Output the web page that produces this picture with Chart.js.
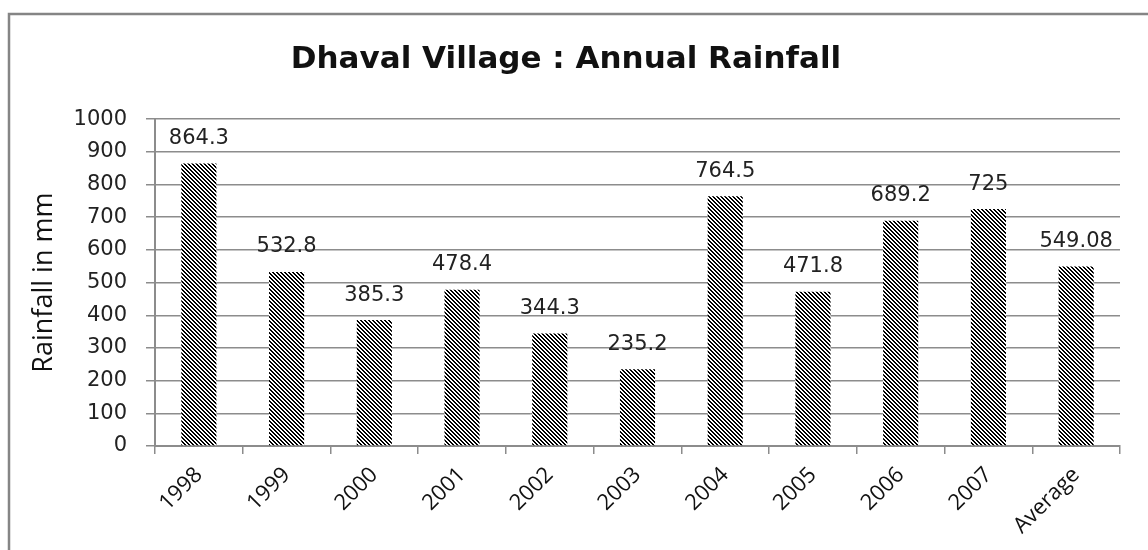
<!DOCTYPE html>
<html lang="en">
<head>
    <meta charset="UTF-8">
    <title>Dhaval Village : Annual Rainfall</title>
    <script src="https://cdn.jsdelivr.net/npm/chart.js"></script>
    <style>
        body { margin: 0; background: #fff; }
        #wrap { width: 1148px; height: 550px; }
    </style>
</head>
<body>
<div id="wrap"><canvas id="rainChart" width="1148" height="550"></canvas></div>

<script>
    const years = ["1998", "1999", "2000", "2001", "2002", "2003", "2004", "2005", "2006", "2007", "Average"];
    const rainfall = [864.3, 532.8, 385.3, 478.4, 344.3, 235.2, 764.5, 471.8, 689.2, 725, 549.08];
    const valueLabels = ["864.3", "532.8", "385.3", "478.4", "344.3", "235.2", "764.5", "471.8", "689.2", "725", "549.08"];
    const yTicks = [0, 100, 200, 300, 400, 500, 600, 700, 800, 900, 1000];

    // diagonal hatch fill like the old excel pattern
    function makeHatch() {
        const c = document.createElement("canvas");
        c.width = 4;
        c.height = 4;
        const g = c.getContext("2d");
        g.fillStyle = "#fff";
        g.fillRect(0, 0, 4, 4);
        g.fillStyle = "#000";
        for (let y = 0; y < 4; y++) {
            for (let x = 0; x < 4; x++) {
                const d = ((x - y) % 4 + 4) % 4;
                if (d === 0 || d === 1) g.fillRect(x, y, 1, 1);
            }
        }
        return g.createPattern(c, "repeat");
    }

    const frame = {
        id: "frame",
        beforeDraw(chart) {
            const ctx = chart.ctx;
            ctx.save();
            ctx.strokeStyle = "#858585";
            ctx.lineWidth = 2.5;
            ctx.beginPath();
            ctx.moveTo(9, 560);
            ctx.lineTo(9, 14);
            ctx.lineTo(1160, 14);
            ctx.stroke();
            ctx.restore();
        }
    };

    const barLabels = {
        id: "barLabels",
        afterDatasetsDraw(chart) {
            const ctx = chart.ctx;
            const meta = chart.getDatasetMeta(0);
            ctx.save();
            ctx.font = "21px 'DejaVu Sans'";
            ctx.fillStyle = "#222";
            ctx.textAlign = "center";
            ctx.textBaseline = "middle";
            meta.data.forEach((bar, i) => {
                ctx.fillText(valueLabels[i], bar.x, bar.y - 25);
            });
            ctx.restore();
        }
    };

    const ctx = document.getElementById("rainChart").getContext("2d");
    new Chart(ctx, {
        type: "bar",
        data: {
            labels: years,
            datasets: [{
                data: rainfall,
                backgroundColor: makeHatch(),
                borderWidth: 0,
                categoryPercentage: 1,
                barPercentage: 0.4
            }]
        },
        options: {
            responsive: false,
            animation: false,
            layout: { padding: { left: 12, right: 28, top: 0, bottom: 0 } },
            plugins: {
                legend: { display: false },
                tooltip: { enabled: false },
                title: {
                    display: true,
                    text: "Dhaval Village : Annual Rainfall",
                    color: "#111",
                    font: { family: "'DejaVu Sans'", size: 31, weight: "bold" },
                    padding: { top: 41, bottom: 41 }
                }
            },
            scales: {
                x: {
                    offset: true,
                    grid: { offset: true, drawOnChartArea: false, tickLength: 8, color: "#8c8c8c", lineWidth: 1.5 },
                    border: { color: "#8c8c8c", width: 2 },
                    ticks: {
                        color: "#111",
                        font: { family: "'Open Sans'", size: 22 },
                        minRotation: 45,
                        maxRotation: 45,
                        padding: 8
                    },
                    afterFit(scale) { scale.height = 104; }
                },
                y: {
                    min: 0,
                    max: 1000,
                    afterBuildTicks(scale) { scale.ticks = yTicks.map(v => ({ value: v })); },
                    grid: { color: "#8c8c8c", lineWidth: 1.5, tickLength: 9 },
                    border: { color: "#8c8c8c", width: 2 },
                    ticks: {
                        color: "#222",
                        font: { family: "'DejaVu Sans'", size: 21 },
                        padding: 19,
                        callback: v => String(v)
                    },
                    title: {
                        display: true,
                        text: "Rainfall in mm",
                        color: "#111",
                        font: { family: "'Open Sans'", size: 27 },
                        padding: { top: 16, bottom: 0 }
                    },
                    afterFit(scale) { scale.width = 143; }
                }
            }
        },
        plugins: [frame, barLabels]
    });
</script>
</body>
</html>
